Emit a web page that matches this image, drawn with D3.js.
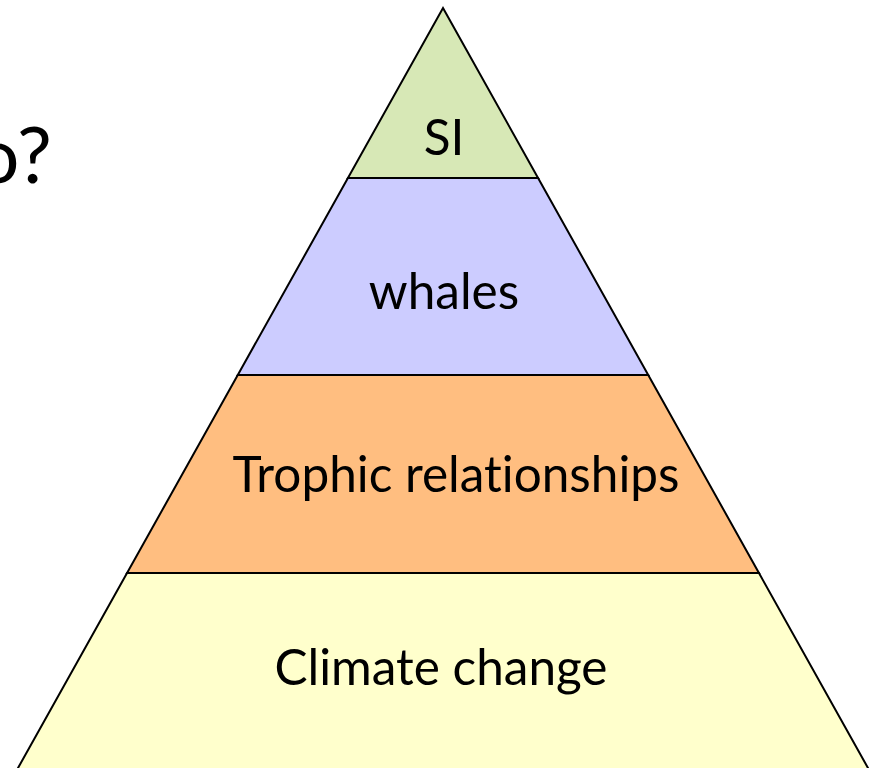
<!DOCTYPE html>
<html lang="en">
<head>
  <meta charset="utf-8">
  <script src="https://cdn.jsdelivr.net/npm/d3@7"></script>
  <style>
    html, body { margin: 0; padding: 0; background: #ffffff; }
    svg text { font-family: Lato, "Noto Sans", sans-serif; fill: #000; font-variant-ligatures: none; }
  </style>
</head>
<body>
<svg id="chart" width="870" height="768"></svg>
<script>
  // tiers of the pyramid, top to bottom
  var tiers = ["SI", "whales", "Trophic relationships", "Climate change"];
  // boundaries of each tier, measured down from the apex
  var tierDepth = [0, 170, 367, 565, 772];
  // where the label baseline sits inside its tier (0 = top, 1 = bottom)
  var labelPos = [0.865, 0.665, 0.59, 0.541];
  // small sideways nudge of each label, px
  var labelShift = [1, 1, 13, -2];
  var tierColor = ["#d7e8b6", "#ccccff", "#ffbe80", "#ffffcc"];

  var svg = d3.select("#chart");
  var cx = 443;

  var y = d3.scaleLinear().domain([0, 760]).range([8, 768]);
  var half = d3.scaleLinear().domain([0, 760]).range([0, 425]);

  var layers = tiers.map(function(name, i) {
    return { name: name, top: tierDepth[i], bottom: tierDepth[i + 1], i: i };
  });

  svg.selectAll("path.tier")
    .data(layers)
    .enter()
    .append("path")
    .attr("class", "tier")
    .attr("d", function(d) {
      return d3.line()([
        [cx - half(d.top), y(d.top)],
        [cx + half(d.top), y(d.top)],
        [cx + half(d.bottom), y(d.bottom)],
        [cx - half(d.bottom), y(d.bottom)]
      ]) + "Z";
    })
    .style("fill", function(d) { return tierColor[d.i]; })
    .style("stroke", "#000")
    .style("stroke-width", 2)
    .style("stroke-linejoin", "miter");

  svg.selectAll("text.label")
    .data(layers)
    .enter()
    .append("text")
    .attr("class", "label")
    .attr("x", function(d) { return cx + labelShift[d.i]; })
    .attr("y", function(d) {
      return y(d.top + (d.bottom - d.top) * labelPos[d.i]);
    })
    .attr("text-anchor", "middle")
    .style("font-size", "49.5px")
    .text(function(d) { return d.name; });

  // leftover end of the slide title, cut off by the left edge
  svg.append("text")
    .attr("x", 52)
    .attr("y", 183)
    .attr("text-anchor", "end")
    .style("font-size", "78px")
    .text("o?");
</script>
</body>
</html>
